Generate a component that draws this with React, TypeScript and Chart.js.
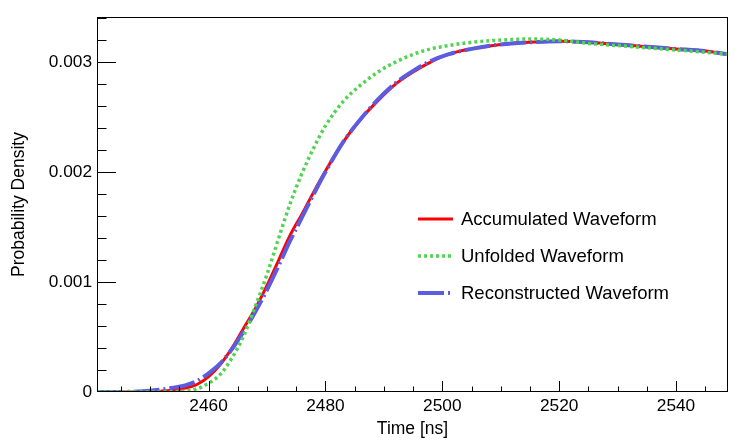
import { Chart, registerables, type Plugin } from "chart.js";
import { useEffect, useRef } from "react";

Chart.register(...registerables);

const FONT = '"Liberation Sans", Arial, Helvetica, sans-serif';

// time axis (ns) shared by the three waveforms
const timeNs = [
  2441, 2444, 2447, 2450, 2452, 2454, 2456, 2458, 2460, 2462, 2464, 2466, 2468,
  2470, 2472, 2474, 2476, 2478, 2480, 2483, 2486, 2489, 2492, 2495, 2498, 2501,
  2505, 2510, 2515, 2520, 2525, 2530, 2535, 2540, 2545, 2549,
];

const accumulated = [
  0, 0, 0, 0.000002, 0.000008, 0.000016, 0.000035, 0.000068, 0.00014, 0.00025,
  0.0004, 0.00058, 0.00076, 0.00097, 0.0012, 0.00143, 0.00162, 0.00182,
  0.00201, 0.00227, 0.00248, 0.00265, 0.0028, 0.00291, 0.003, 0.00307, 0.00312,
  0.00316, 0.00318, 0.00319, 0.00318, 0.00316, 0.00314, 0.00312, 0.0031,
  0.00307,
];

const unfolded = [
  0, 0, 0, 0, 0, 0.000003, 0.00001, 0.000028, 0.00008, 0.00016, 0.00031,
  0.00051, 0.00078, 0.00107, 0.0014, 0.00172, 0.00199, 0.00222, 0.00242,
  0.00264, 0.00279, 0.00291, 0.003, 0.00307, 0.00312, 0.00315, 0.00318,
  0.0032, 0.00321, 0.0032, 0.00317, 0.00315, 0.00313, 0.00311, 0.00309,
  0.00307,
];

const reconstructed = [
  0, 0, 0.000003, 0.000012, 0.000024, 0.00004, 0.00006, 0.0001, 0.00017,
  0.00026, 0.00039, 0.00055, 0.00073, 0.00093, 0.00115, 0.00138, 0.00159,
  0.0018, 0.002, 0.00227, 0.00248, 0.00266, 0.00281, 0.00292, 0.00301, 0.00307,
  0.00312, 0.00316, 0.00318, 0.00319, 0.00318, 0.00316, 0.00314, 0.00312,
  0.0031, 0.00307,
];

const seriesLabels = [
  "Accumulated Waveform",
  "Unfolded Waveform",
  "Reconstructed Waveform",
];

const xTicks = [2460, 2480, 2500, 2520, 2540];
const yTicks = [0, 0.001, 0.002, 0.003];

const xTitle = "Time [ns]";
const yTitle = "Probability Density";

function toPoints(values: number[]) {
  return timeNs.map((t, i) => ({ x: t, y: values[i] }));
}

// ROOT-like frame: box, inward ticks, axis titles and the legend
const rootFramePlugin: Plugin<"line"> = {
  id: "rootFrame",
  afterDraw(chart) {
    const { ctx, chartArea: area } = chart;
    const xScale = chart.scales.x;
    const yScale = chart.scales.y;

    ctx.save();
    ctx.strokeStyle = "#000000";
    ctx.lineWidth = 1;
    ctx.strokeRect(
      area.left + 0.5,
      area.top + 0.5,
      area.right - area.left - 1,
      area.bottom - area.top - 1,
    );

    ctx.beginPath();
    for (let v = 2445; v <= 2548; v += 5) {
      const px = Math.round(xScale.getPixelForValue(v)) + 0.5;
      const len = v % 20 === 0 ? 11 : 5.5;
      ctx.moveTo(px, area.bottom);
      ctx.lineTo(px, area.bottom - len);
    }
    for (let i = 1; i <= 17; i++) {
      const v = i * 0.0002;
      const py = Math.round(yScale.getPixelForValue(v)) + 0.5;
      const len = i % 5 === 0 ? 19 : 9.5;
      ctx.moveTo(area.left, py);
      ctx.lineTo(area.left + len, py);
    }
    ctx.stroke();

    ctx.fillStyle = "#000000";
    ctx.font = `17.5px ${FONT}`;
    ctx.textAlign = "center";
    ctx.textBaseline = "alphabetic";
    ctx.fillText(xTitle, (area.left + area.right) / 2, 434);

    ctx.save();
    ctx.translate(19, (area.top + area.bottom) / 2);
    ctx.rotate(-Math.PI / 2);
    ctx.textBaseline = "middle";
    ctx.fillText(yTitle, 0, 0);
    ctx.restore();

    const legendRows = [219, 256, 293];
    ctx.font = `18.5px ${FONT}`;
    ctx.textAlign = "left";
    ctx.textBaseline = "middle";
    seriesLabels.forEach((label, i) => {
      const ds = chart.data.datasets[i] as any;
      const yRow = legendRows[i];
      ctx.save();
      ctx.strokeStyle = ds.borderColor;
      ctx.lineWidth = ds.borderWidth;
      ctx.setLineDash(ds.borderDash ?? []);
      ctx.beginPath();
      ctx.moveTo(418, yRow);
      ctx.lineTo(453, yRow);
      ctx.stroke();
      ctx.restore();
      ctx.fillText(label, 461, yRow + 1);
    });

    ctx.restore();
  },
};

export default function App() {
  const canvasRef = useRef<HTMLCanvasElement>(null);

  useEffect(() => {
    if (!canvasRef.current) {
      return;
    }

    const chart = new Chart(canvasRef.current, {
      type: "line",
      data: {
        datasets: [
          {
            label: seriesLabels[0],
            data: toPoints(accumulated),
            borderColor: "#ff0000",
            borderWidth: 3,
            order: 2,
          },
          {
            label: seriesLabels[1],
            data: toPoints(unfolded),
            borderColor: "#52d452",
            borderWidth: 3.5,
            borderDash: [3, 3],
            order: 0,
          },
          {
            label: seriesLabels[2],
            data: toPoints(reconstructed),
            borderColor: "#5c5ce0",
            borderWidth: 4,
            borderDash: [26, 4, 2, 4],
            order: 1,
          },
        ],
      },
      options: {
        responsive: true,
        maintainAspectRatio: false,
        animation: false,
        layout: {
          padding: { top: 17, right: 19, left: 0, bottom: 0 },
        },
        elements: {
          point: { radius: 0 },
          line: { cubicInterpolationMode: "monotone", fill: false },
        },
        plugins: {
          legend: { display: false },
          tooltip: { enabled: false },
        },
        scales: {
          x: {
            type: "linear",
            min: 2440.9,
            max: 2548.9,
            grid: { display: false, drawTicks: false },
            border: { display: false },
            afterBuildTicks(scale) {
              scale.ticks = xTicks.map((value) => ({ value }));
            },
            afterFit(scale) {
              scale.height = 54;
            },
            ticks: {
              color: "#000000",
              padding: 4,
              maxRotation: 0,
              autoSkip: false,
              font: { family: FONT, size: 17.3 },
              callback(value) {
                return String(value);
              },
            },
          },
          y: {
            type: "linear",
            min: 0,
            max: 0.00341,
            grid: { display: false, drawTicks: false },
            border: { display: false },
            afterBuildTicks(scale) {
              scale.ticks = yTicks.map((value) => ({ value }));
            },
            afterFit(scale) {
              scale.width = 97;
            },
            ticks: {
              color: "#000000",
              padding: 5,
              autoSkip: false,
              font: { family: FONT, size: 17.3 },
              callback(value) {
                const v = Number(value);
                return v === 0 ? "0" : v.toFixed(3);
              },
            },
          },
        },
      },
      plugins: [rootFramePlugin],
    });

    return () => {
      chart.destroy();
    };
  }, []);

  return (
    <div
      style={{
        position: "absolute",
        left: 0,
        top: 0,
        width: 747,
        height: 446,
        background: "#ffffff",
      }}
    >
      <canvas ref={canvasRef} />
    </div>
  );
}
